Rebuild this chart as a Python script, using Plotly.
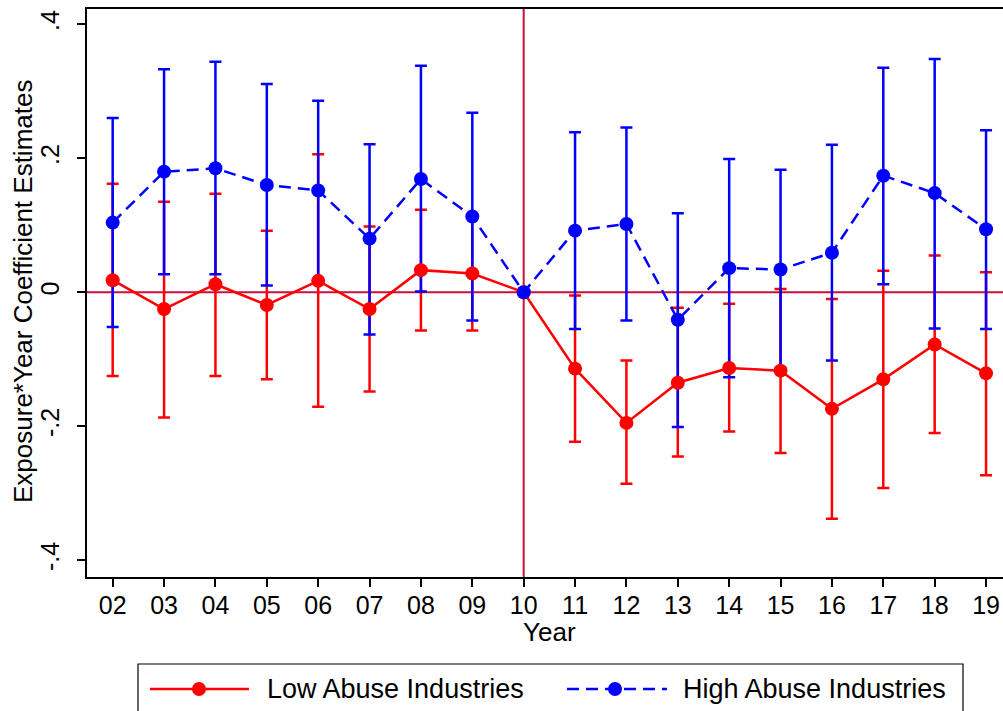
import plotly.graph_objects as go

years = [2, 3, 4, 5, 6, 7, 8, 9, 10, 11, 12, 13, 14, 15, 16, 17, 18, 19]
year_labels = ["02", "03", "04", "05", "06", "07", "08", "09", "10",
               "11", "12", "13", "14", "15", "16", "17", "18", "19"]

low_est = [0.018, -0.025, 0.012, -0.019, 0.017, -0.025, 0.033, 0.028, 0.0,
           -0.114, -0.195, -0.135, -0.113, -0.117, -0.174, -0.130, -0.078, -0.121]
low_hi = [0.162, 0.135, 0.147, 0.092, 0.206, 0.098, 0.123, 0.115, None,
          -0.005, -0.102, -0.023, -0.017, 0.005, -0.010, 0.032, 0.055, 0.030]
low_lo = [-0.125, -0.187, -0.125, -0.130, -0.171, -0.148, -0.057, -0.057, None,
          -0.223, -0.286, -0.245, -0.208, -0.240, -0.338, -0.292, -0.210, -0.273]

high_est = [0.104, 0.180, 0.185, 0.160, 0.152, 0.080, 0.169, 0.113, 0.0,
            0.092, 0.102, -0.041, 0.036, 0.034, 0.059, 0.174, 0.148, 0.094]
high_hi = [0.260, 0.333, 0.344, 0.311, 0.286, 0.221, 0.338, 0.268, None,
           0.239, 0.246, 0.118, 0.199, 0.183, 0.220, 0.335, 0.348, 0.242]
high_lo = [-0.052, 0.027, 0.027, 0.010, 0.017, -0.063, 0.001, -0.042, None,
           -0.055, -0.042, -0.201, -0.127, -0.113, -0.102, 0.012, -0.054, -0.055]

y_ticks = [0.4, 0.2, 0, -0.2, -0.4]
y_tick_labels = [".4", ".2", "0", "-.2", "-.4"]

RED = "#FF0000"
BLUE = "#0000FF"
REF = "#C8103C"
FONT = "Liberation Sans, Arial, sans-serif"
LW = 2.5

fig = go.Figure()


def ci_trace(est, hi, lo, color):
    xs, ys, up, dn = [], [], [], []
    for x, e, h, l in zip(years, est, hi, lo):
        if h is None or l is None:
            continue
        xs.append(x)
        ys.append(e)
        up.append(h - e)
        dn.append(e - l)
    return go.Scatter(
        x=xs, y=ys, mode="markers", marker=dict(size=1, opacity=0),
        error_y=dict(type="data", symmetric=False, array=up, arrayminus=dn,
                     color=color, thickness=LW, width=6),
        showlegend=False, hoverinfo="skip")


fig.add_trace(ci_trace(low_est, low_hi, low_lo, RED))
fig.add_trace(ci_trace(high_est, high_hi, high_lo, BLUE))

fig.add_trace(go.Scatter(
    x=years, y=low_est, mode="lines+markers", name="Low Abuse Industries",
    line=dict(color=RED, width=LW), marker=dict(color=RED, size=14),
    showlegend=False))
fig.add_trace(go.Scatter(
    x=years, y=high_est, mode="lines+markers", name="High Abuse Industries",
    line=dict(color=BLUE, width=LW, dash="12px,7px"),
    marker=dict(color=BLUE, size=14), showlegend=False))

fig.add_hline(y=0, line=dict(color=REF, width=2), layer="below")
fig.add_vline(x=10, line=dict(color=REF, width=2), layer="below")

# manual legend and titles (pixel -> paper helpers)
L, R, T, B = 87, 1003, 9, 577


def px(x):
    return (x - L) / (R - L)


def py(y):
    return (B - y) / (B - T)


ly = 689
fig.add_shape(type="rect", xref="paper", yref="paper",
              x0=px(138), x1=px(963), y0=py(664), y1=py(715),
              line=dict(color="black", width=1.2), fillcolor="white")
fig.add_shape(type="line", xref="paper", yref="paper",
              x0=px(150), x1=px(249), y0=py(ly), y1=py(ly),
              line=dict(color=RED, width=LW))
fig.add_shape(type="line", xref="paper", yref="paper",
              x0=px(567), x1=px(667), y0=py(ly), y1=py(ly),
              line=dict(color=BLUE, width=LW, dash="12px,7px"))
for cx, col in [(199, RED), (615, BLUE)]:
    fig.add_shape(type="circle", xref="paper", yref="paper",
                  x0=px(cx - 7), x1=px(cx + 7), y0=py(ly - 7), y1=py(ly + 7),
                  line=dict(color=col, width=0), fillcolor=col)
fig.add_annotation(xref="paper", yref="paper", x=px(265), y=py(ly),
                   text="Low Abuse Industries", showarrow=False,
                   xanchor="left", yanchor="middle",
                   font=dict(family=FONT, size=27, color="black"))
fig.add_annotation(xref="paper", yref="paper", x=px(681), y=py(ly),
                   text="High Abuse Industries", showarrow=False,
                   xanchor="left", yanchor="middle",
                   font=dict(family=FONT, size=27, color="black"))
fig.add_annotation(xref="paper", yref="paper", x=px(549), y=py(632),
                   text="Year", showarrow=False,
                   xanchor="center", yanchor="middle",
                   font=dict(family=FONT, size=26, color="black"))
fig.add_annotation(xref="paper", yref="paper", x=px(23), y=py(292),
                   text="Exposure*Year Coefficient Estimates", showarrow=False,
                   textangle=-90, xanchor="center", yanchor="middle",
                   font=dict(family=FONT, size=26, color="black"))

fig.update_layout(
    width=1003, height=711,
    margin=dict(l=L, r=0, t=T, b=711 - B, autoexpand=False),
    plot_bgcolor="white", paper_bgcolor="white",
    font=dict(family=FONT, size=25, color="black"),
    showlegend=False,
    xaxis=dict(range=[1.5, 19.33], tickvals=years, ticktext=year_labels,
               showline=True, linecolor="black", linewidth=2, mirror=True,
               ticks="outside", ticklen=8, tickwidth=1.5, tickcolor="black",
               showgrid=False, zeroline=False, automargin=False,
               ticklabelstandoff=-3,
               tickfont=dict(family=FONT, size=25)),
    yaxis=dict(range=[-0.425, 0.4228], tickvals=y_ticks, ticktext=y_tick_labels,
               showline=True, linecolor="black", linewidth=2,
               ticks="outside", ticklen=8, tickwidth=1.5, tickcolor="black",
               tickangle=-90, showgrid=False, zeroline=False, automargin=False,
               ticklabelstandoff=8,
               tickfont=dict(family=FONT, size=25)),
)

fig.write_html("out.html",
               config={"displayModeBar": False},
               post_script="document.body.style.margin='0';"
                           "document.body.style.overflow='hidden';")
